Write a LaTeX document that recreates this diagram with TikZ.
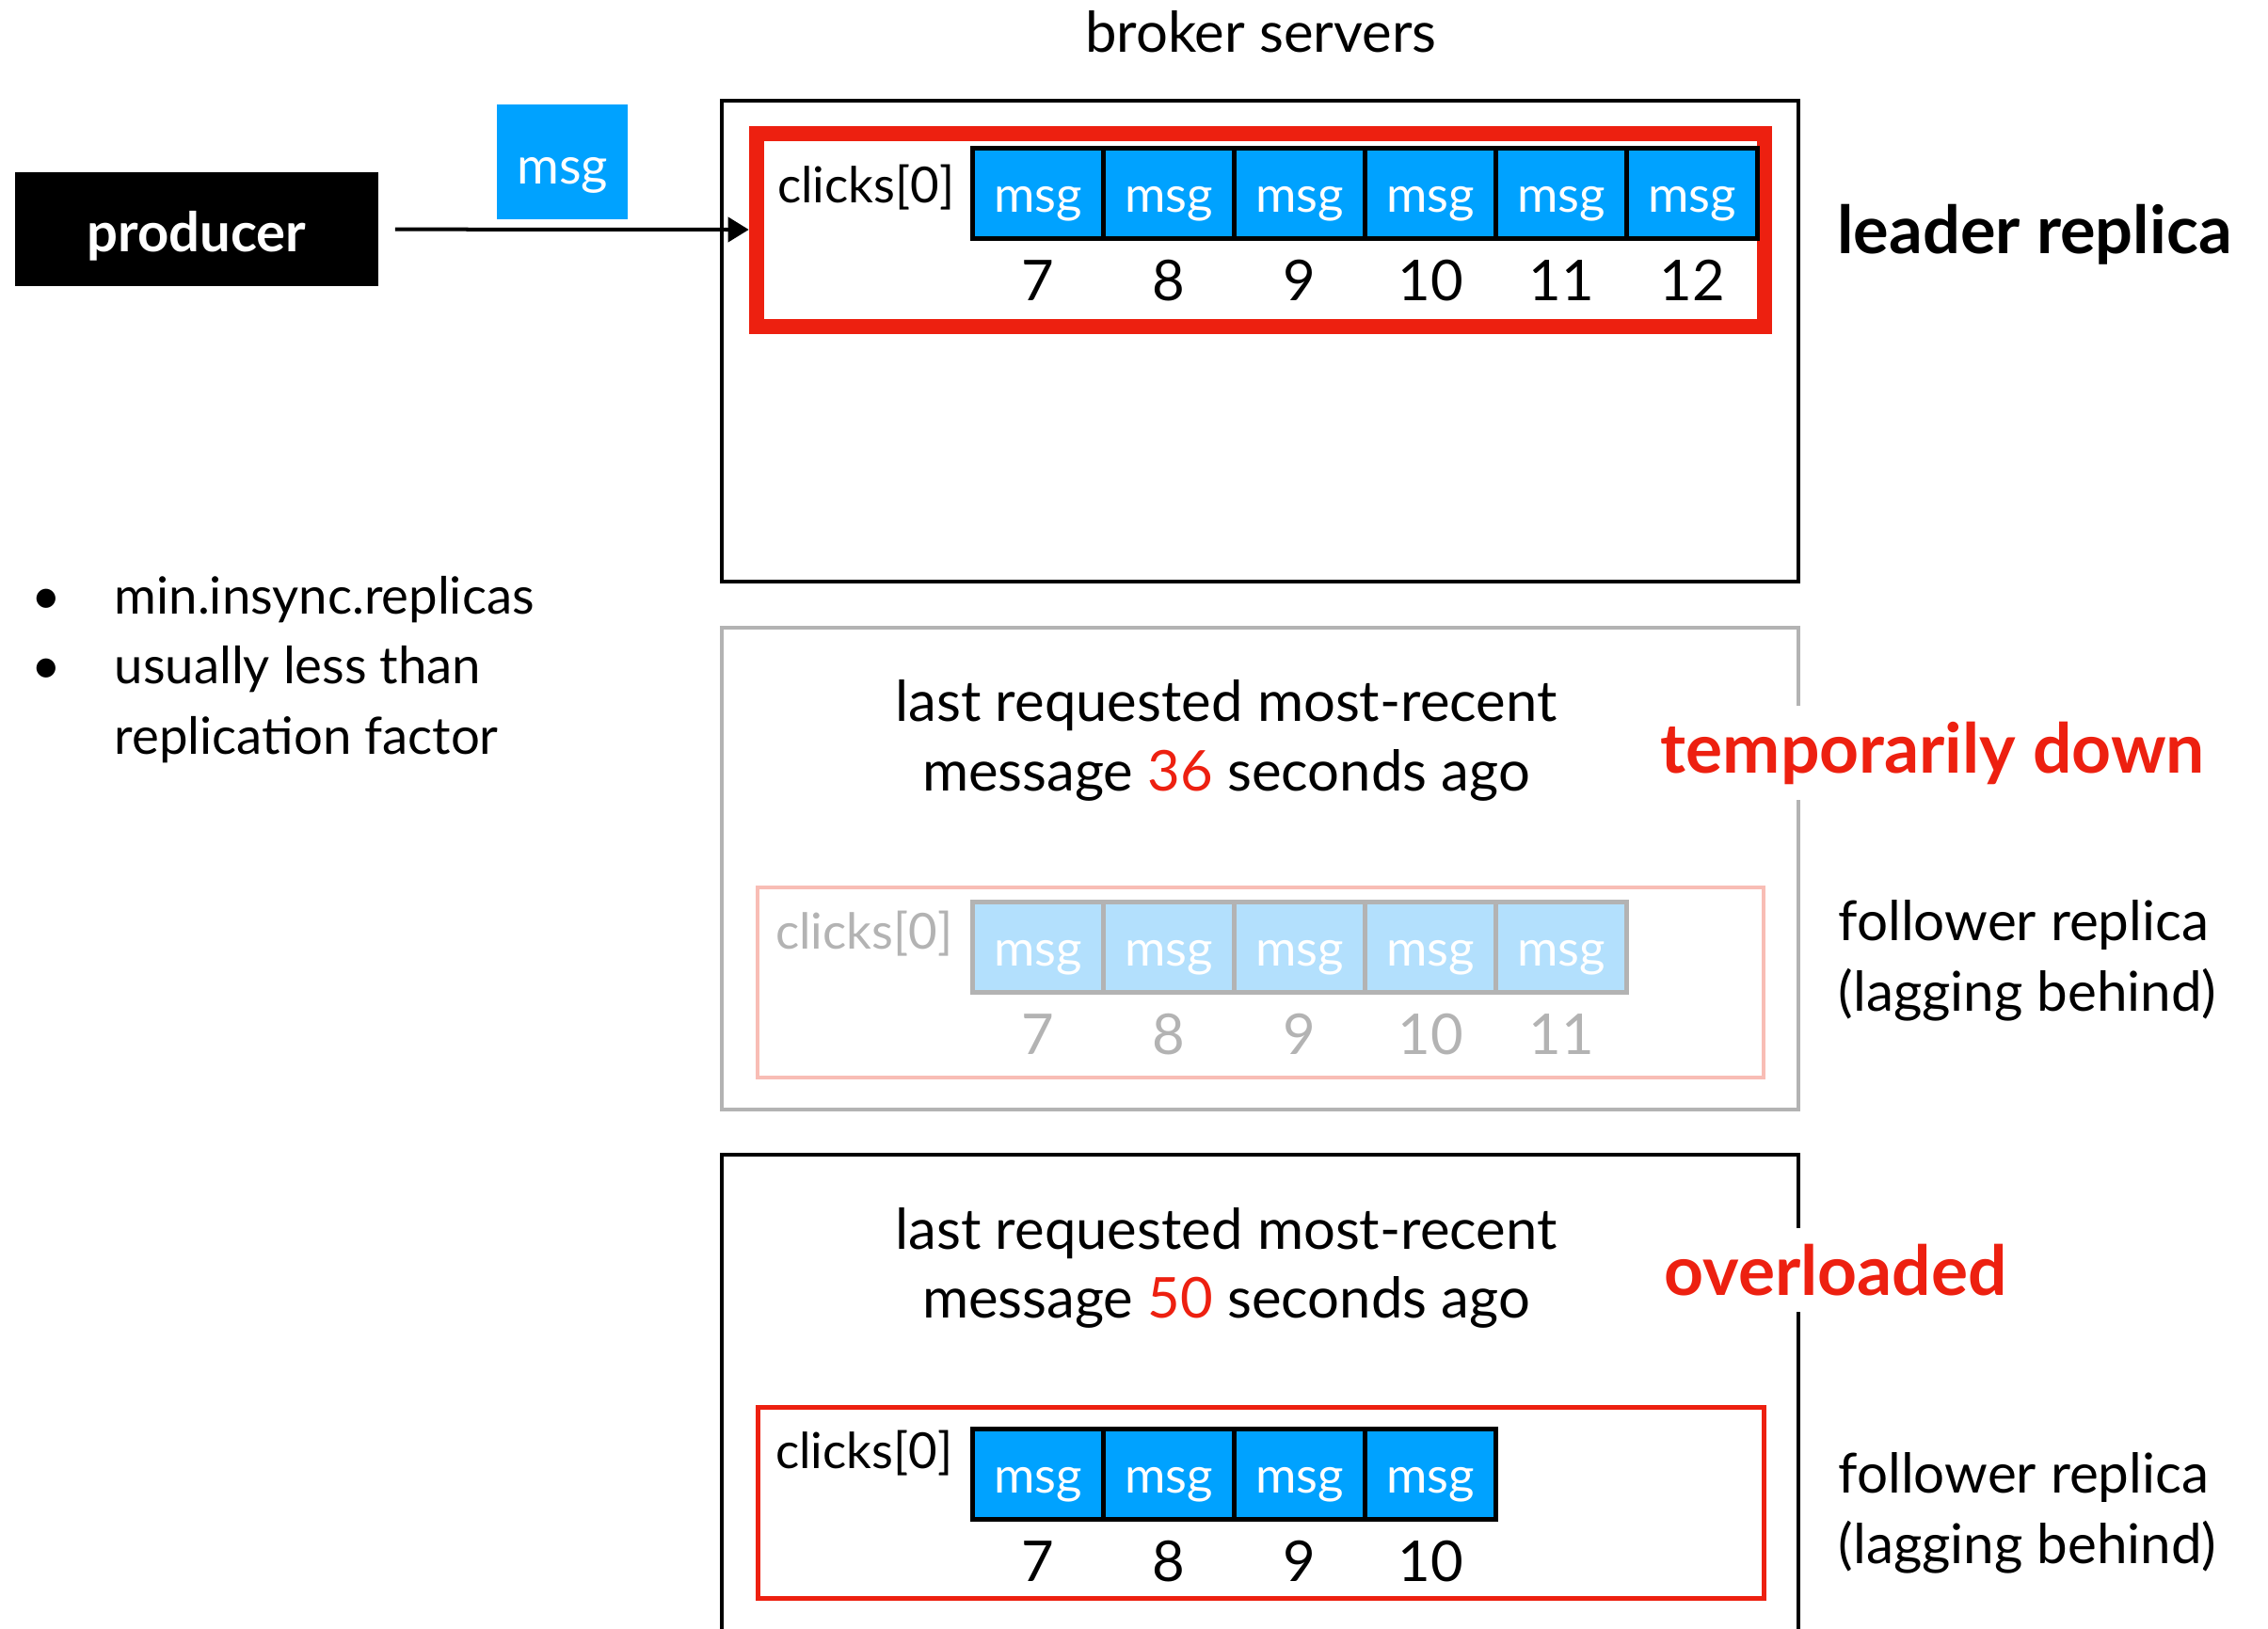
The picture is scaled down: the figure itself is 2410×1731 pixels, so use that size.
\documentclass[tikz,border=0pt]{standalone}
\usepackage{fontspec}
\setmainfont{Lato}
\usetikzlibrary{matrix,arrows.meta}

\definecolor{msgblue}{RGB}{0,162,255}
\definecolor{fadeblue}{RGB}{179,224,253}
\definecolor{alertred}{RGB}{237,32,16}
\definecolor{fadegray}{RGB}{179,179,179}
\definecolor{fadepink}{RGB}{248,189,181}

\begin{document}
\begin{tikzpicture}[x=0.01cm,y=-0.01cm,
  every node/.style={font=\fontsize{17}{20.8}\selectfont},
  server/.style={draw=black,line width=0.04cm},
  cell/.style={draw=black,fill=msgblue,text=white,line width=0.05cm,inner sep=0pt,
               text height=0.4cm,text depth=0pt,%baseline sits low in the box
               minimum width=1.39cm,minimum height=0.96cm,font=\fontsize{15}{17}\selectfont},
  num/.style={inner sep=0pt,minimum width=1.39cm,minimum height=0.6cm,font=\fontsize{17}{20}\selectfont},
  msglog/.style={matrix of nodes,inner sep=0pt,column sep=-0.05cm,row sep=0.12cm,
                 nodes={anchor=center},row 1/.style={nodes=cell},row 2/.style={nodes=num}},
  faded/.style={row 1/.style={nodes={cell,draw=fadegray,fill=fadeblue}},%pale copy
                row 2/.style={nodes={num,text=fadegray}}},
  frame/.style={draw=alertred,inner sep=0pt},
  clicks/.style={anchor=east,inner sep=0pt,font=\fontsize{15}{18}\selectfont},
  status/.style={anchor=base west,text=alertred,fill=white,inner xsep=0pt,inner ysep=0.17cm,
                 font=\bfseries\fontsize{20.8}{24}\selectfont},
  role/.style={anchor=west,align=left,inner sep=0pt,font=\fontsize{16.6}{21.3}\selectfont}
]
\useasboundingbox (0,0) rectangle (2410,1731);

% producer side
\node[fill=black,text=white,minimum width=3.86cm,minimum height=1.21cm,text height=0.47cm,text depth=0pt,
      font=\bfseries\fontsize{16.5}{19}\selectfont] (producer) at (209,243.5) {producer};
\node[fill=msgblue,text=white,minimum width=1.39cm,minimum height=1.22cm,text height=0.46cm,text depth=0pt,
      font=\fontsize{15.5}{18}\selectfont] (newmsg) at (597.5,172) {msg};

\node[anchor=base] (brokers) at (1340,56) {broker servers};

% three servers
\draw[server] (767,107) rectangle (1911,618);
\draw[server,draw=fadegray] (767,667) rectangle (1911,1179);
\draw[server] (767,1745) -- (767,1227) -- (1911,1227) -- (1911,1745);

% leader
\node[frame,line width=0.16cm,minimum width=10.71cm,minimum height=2.05cm] (leader) at (1339.5,244.5) {};
\matrix (leaderlog) [msglog,anchor=north west] at (1030,154) {
msg & msg & msg & msg & msg & msg \\
7 & 8 & 9 & 10 & 11 & 12 \\
};
\node[clicks] (leadername) at (1015,199) {clicks[0]};
\node[anchor=base west,font=\bfseries\fontsize{20}{24}\selectfont] (leaderrole) at (1940,270) {leader replica};

\draw[line width=0.04cm,-{Triangle[length=0.22cm,width=0.26cm]},shorten <=0.17cm] (producer) -- (leader);

% follower, down
\node[frame,draw=fadepink,line width=0.04cm,minimum width=10.69cm,minimum height=2.02cm] (downframe) at (1339.5,1044) {};
\matrix (downlog) [msglog,faded,anchor=north west] at (1030,955) {
msg & msg & msg & msg & msg \\
7 & 8 & 9 & 10 & 11 \\
};
\node[clicks,text=fadegray] (downname) at (1013,992) {clicks[0]};
\node[align=center] (downnote) at (1303,787) {last requested most-recent\\message \textcolor{alertred}{36} seconds ago};
\node[status] (down) at (1764,821) {temporarily down};
\node[role] (downrole) at (1953,1021) {follower replica\\(lagging behind)};

% follower, overloaded
\node[frame,line width=0.05cm,minimum width=10.69cm,minimum height=2.03cm] (slowframe) at (1340,1597) {};
\matrix (slowlog) [msglog,anchor=north west] at (1030,1515) {
msg & msg & msg & msg \\
7 & 8 & 9 & 10 \\
};
\node[clicks] (slowname) at (1013,1544) {clicks[0]};
\node[align=center] (slownote) at (1303,1347) {last requested most-recent\\message \textcolor{alertred}{50} seconds ago};
\node[status] (slow) at (1768,1376) {overloaded};
\node[role] (slowrole) at (1953,1608) {follower replica\\(lagging behind)};

% notes
\node[anchor=base west,inner sep=0pt,font=\fontsize{15.5}{21.3}\selectfont] (notes) at (33,652) {%
\begin{tabular}[t]{@{}p{0.88cm}@{}l@{}}
• & min.insync.replicas\\
• & usually less than\\
  & replication factor
\end{tabular}};
\end{tikzpicture}
\end{document}
